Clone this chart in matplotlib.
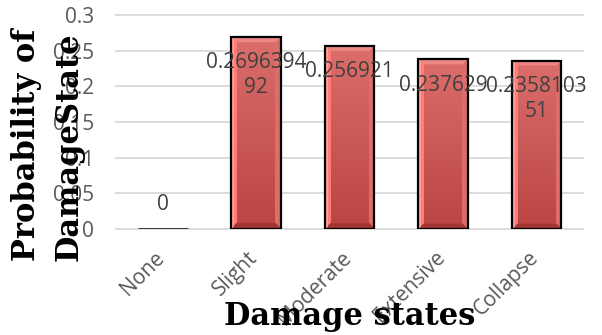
import matplotlib
matplotlib.use("Agg")
import matplotlib.pyplot as plt
import matplotlib.transforms as mtransforms
import numpy as np

states = ["None", "Slight", "Moderate", "Extensive", "Collapse"]
probs = [0, 0.269639492, 0.256921, 0.237629, 0.235810351]
yticks = [0, 0.05, 0.1, 0.15, 0.2, 0.25, 0.3]
ytick_labels = ["0", "0.05", "0.1", "0.15", "0.2", "0.25", "0.3"]


def bevel_face(rows=190, cols=50, b=6):
    # red face with a bright left strip and a bevelled rim
    y = np.linspace(0, 1, rows)[:, None]
    top = np.array([0.86, 0.43, 0.42])
    bot = np.array([0.73, 0.27, 0.26])
    img = top + (bot - top) * y[..., None] * np.ones((1, cols, 1))
    yy, xx = np.mgrid[0:rows, 0:cols]
    dl, dr, dt, db = xx, cols - 1 - xx, yy, rows - 1 - yy
    dmin = np.minimum(np.minimum(dl, dr), np.minimum(dt, db))
    rim = dmin < b
    left = rim & (dmin == dl)
    img[left] = [1.0, 0.49, 0.48]
    img[rim & (dmin == dr)] = [0.87, 0.43, 0.42]
    img[rim & (dmin == dt)] = [0.93, 0.53, 0.52]
    img[rim & (dmin == db)] = [0.64, 0.21, 0.20]
    img[left & (xx >= 1) & (xx <= 2)] = [1.0, 0.62, 0.60]
    return np.clip(img, 0, 1)


fig = plt.figure(figsize=(6.02, 3.35), dpi=100)
ax = fig.add_axes([0.1927, 0.3164, 0.7763, 0.6388])

x = np.arange(len(states))
bars = ax.bar(x, probs, width=0.53, facecolor="none", edgecolor="black",
              linewidth=1.6, zorder=3)
bars[0].set_edgecolor("#404040")
bars[0].set_linewidth(2.2)

face = bevel_face()
for rect in bars:
    h = rect.get_height()
    if h <= 0:
        continue
    ax.imshow(face, extent=(rect.get_x(), rect.get_x() + rect.get_width(), 0, h),
              aspect="auto", interpolation="bilinear", zorder=2)

for yv in yticks:
    ax.axhline(yv, color="#d9d9d9", lw=1.3, zorder=1, clip_on=False)

ax.set_xlim(-0.5, 4.5)
ax.set_ylim(0, 0.3)
ax.set_yticks(yticks)
ax.set_yticklabels(ytick_labels)
ax.set_xticks(x)
ax.set_xticklabels(states, rotation=45, ha="right", va="top")
ax.tick_params(length=0, labelsize=15, labelcolor="#595959")
ax.tick_params(axis="y", pad=16)
ax.tick_params(axis="x", pad=13)
shift = mtransforms.ScaledTranslation(6 / 100, 0, fig.dpi_scale_trans)
for lab in ax.get_xticklabels():
    lab.set_transform(lab.get_transform() + shift)
for lab in ax.get_xticklabels() + ax.get_yticklabels():
    lab.set_family("Open Sans")
for s in ax.spines.values():
    s.set_visible(False)

# value labels, long ones wrapped after nine characters
for xi, v in zip(x, probs):
    txt = str(v) if v else "0"
    if len(txt) > 9:
        txt = txt[:9] + "\n" + txt[9:]
    if v:
        ax.annotate(txt, (xi, v), xytext=(0, -11), textcoords="offset points",
                    ha="center", va="top", fontsize=15, color="#404040",
                    family="Open Sans", linespacing=1.25, zorder=4)
    else:
        ax.annotate(txt, (xi, v), xytext=(0, 10), textcoords="offset points",
                    ha="center", va="bottom", fontsize=15, color="#404040",
                    family="Open Sans", zorder=4)

lab_font = dict(family="DejaVu Serif", weight="bold", fontsize=22, color="black")
fig.text(27 / 602, 1 - 145 / 335, "Probability of", rotation=90,
         ha="center", va="center", **lab_font)
fig.text(69 / 602, 1 - 147 / 335, "DamageState", rotation=90,
         ha="center", va="center", **lab_font)
fig.text(350 / 602, 1 - 317 / 335, "Damage states", ha="center", va="center",
         **lab_font)

fig.savefig("out.png", dpi=100)
